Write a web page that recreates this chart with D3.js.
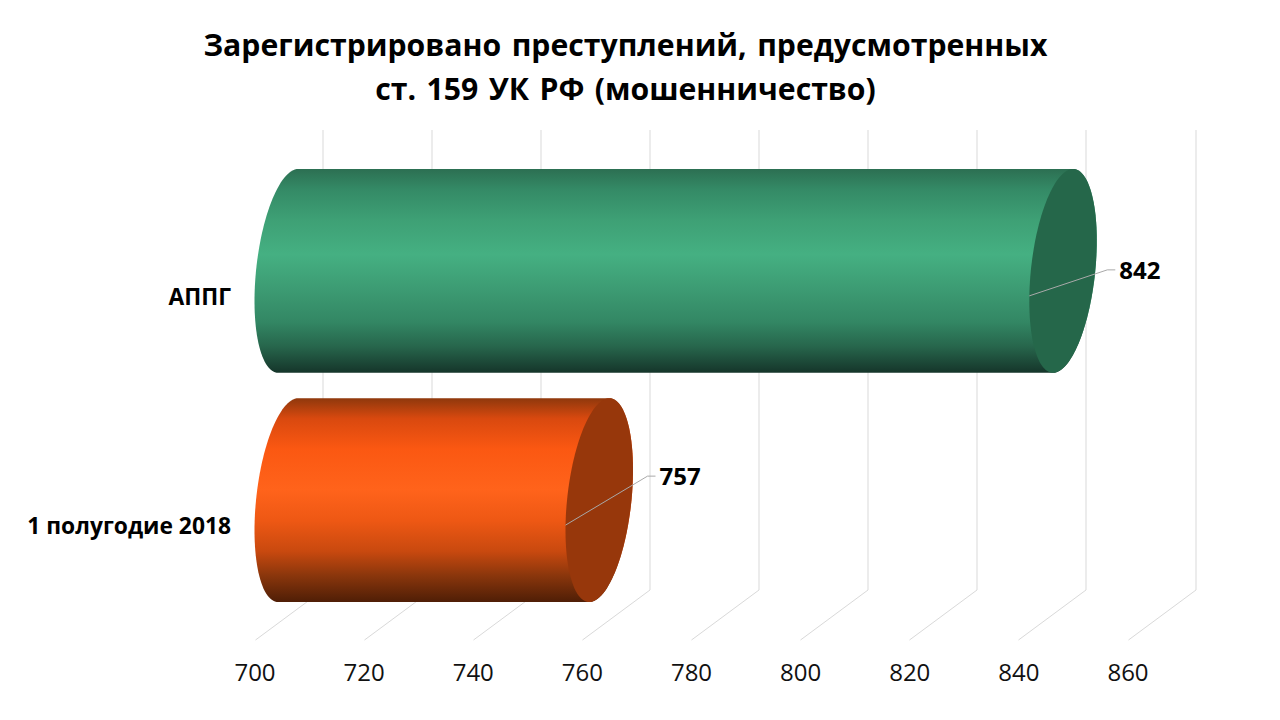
<!DOCTYPE html>
<html lang="ru">
<head>
<meta charset="utf-8">
<title>мошенничество</title>
<script src="https://d3js.org/d3.v7.min.js"></script>
<style>
  html, body { margin: 0; background: #fff; }
  svg { display: block; font-family: "Open Sans", sans-serif; }
  .title { font-size: 30.2px; font-weight: bold; fill: #000; text-anchor: middle; word-spacing: 2.6px; }
  .cat { font-size: 22.8px; font-weight: bold; fill: #000; text-anchor: end; }
  .val { font-size: 24px; font-weight: bold; fill: #000; }
  .tick text { font-size: 24px; fill: #111; font-family: "Open Sans", sans-serif; }
</style>
</head>
<body>
<svg width="1280" height="720"></svg>
<script>
const titleLines = ["Зарегистрировано преступлений, предусмотренных", "ст. 159 УК РФ (мошенничество)"];
const categories = ["АППГ", "1 полугодие 2018"];
const values = [842, 757];
const tickValues = [700, 720, 740, 760, 780, 800, 820, 840, 860];
const bodyStops = [
  [
    [0, "#2c6f52"], [0.1, "#348a66"], [0.25, "#3ea075"], [0.42, "#45b082"],
    [0.6, "#3c9a72"], [0.75, "#338764"], [0.87, "#27664c"], [1, "#15352a"]
  ],
  [
    [0, "#8f380c"], [0.1, "#d9490f"], [0.25, "#fb5812"], [0.45, "#ff631b"],
    [0.6, "#ee5814"], [0.75, "#c9490f"], [0.87, "#8a360c"], [1, "#4f1e06"]
  ]
];
const capColors = ["#25674a", "#97370b"];
// leader line bend, relative to the bar centre
const leaderOffsets = [{ startY: 25, endX: 78, endY: -1 }, { startY: 25, endX: 82, endY: -24 }];

const svg = d3.select("svg");

// plot box: front plane plus the 3d depth shift
const depthX = 67.5, depthY = 50;
const floorY = 640, topY = 130;

const x = d3.scaleLinear().domain([700, 860]).range([254.5, 1127.5]);
const y = d3.scaleBand().domain(categories).range([143.5, 627.5]).padding(0.111);

// gradients
const defs = svg.append("defs");
categories.forEach((c, i) => {
  const g = defs.append("linearGradient").attr("id", "body" + i)
    .attr("x1", 0).attr("y1", 0).attr("x2", 0).attr("y2", 1);
  bodyStops[i].forEach(s => g.append("stop").attr("offset", s[0]).attr("stop-color", s[1]));
});

// grid on the back wall and the floor
const grid = svg.append("g").attr("stroke", "#d9d9d9").attr("stroke-width", 1).attr("fill", "none");
tickValues.forEach(t => {
  const px = Math.round(x(t)) + 0.5;
  grid.append("path").attr("d", d3.line()([
    [px, floorY], [px + depthX, floorY - depthY], [px + depthX, topY]
  ]));
});

// x axis, labels only
svg.append("g")
  .attr("transform", `translate(0,${floorY + 14})`)
  .call(d3.axisBottom(x).tickValues(tickValues).tickSize(0).tickPadding(10))
  .call(g => g.select(".domain").remove());

// sheared ellipse for a cylinder end, v = value at its left extreme
const shear = 10;
function endPoint(v, cy, ry, t) {
  const cx = x(v) + depthX / 2;
  const a = Math.sqrt(depthX * depthX / 4 - shear * shear);
  return [cx + a * Math.cos(t) - shear * Math.sin(t), cy + ry * Math.sin(t)];
}
const line = d3.line();

categories.forEach((c, i) => {
  const cy = y(c) + y.bandwidth() / 2;
  const ry = y.bandwidth() / 2;
  const v = values[i];

  // body: left half of the base end, then across to the far end
  const pts = [];
  d3.range(0, 61).forEach(k => {
    const t = -Math.PI / 2 - Math.PI * k / 60;
    pts.push(endPoint(700, cy, ry, t));
  });
  d3.range(0, 61).forEach(k => {
    const t = Math.PI / 2 - Math.PI * k / 60;
    pts.push(endPoint(v, cy, ry, t));
  });
  svg.append("path").attr("d", line(pts) + "Z").attr("fill", `url(#body${i})`);

  // cap
  const cap = d3.range(0, 120).map(k => endPoint(v, cy, ry, 2 * Math.PI * k / 120));
  svg.append("path").attr("d", line(cap) + "Z").attr("fill", capColors[i]);

  // leader and label
  const o = leaderOffsets[i];
  const ex = x(v) + o.endX, ey = cy + o.endY;
  svg.append("path")
    .attr("d", line([[x(v), cy + o.startY], [ex, ey], [ex + 8, ey]]))
    .attr("fill", "none").attr("stroke", "#a9a9a9").attr("stroke-width", 1);
  svg.append("text").attr("class", "val")
    .attr("x", ex + 12).attr("y", ey + 9).text(v);

  // category label
  svg.append("text").attr("class", "cat")
    .attr("x", 231).attr("y", cy + 34)
    .text(c);
});

// title
titleLines.forEach((t, i) => {
  svg.append("text").attr("class", "title")
    .attr("x", 625.5).attr("y", 56 + i * 44).text(t);
});
</script>
</body>
</html>
